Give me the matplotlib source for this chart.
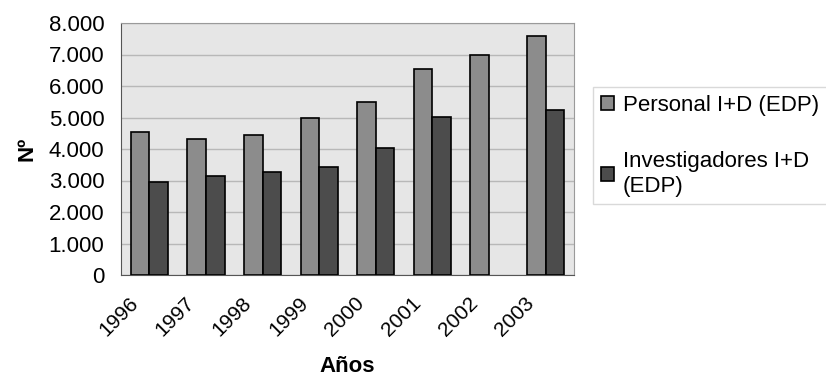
import matplotlib
matplotlib.use("Agg")
import matplotlib.pyplot as plt
import matplotlib.transforms as mtransforms
import numpy as np
from matplotlib.ticker import FuncFormatter

years = ["1996", "1997", "1998", "1999", "2000", "2001", "2002", "2003"]
personal = [4530, 4330, 4440, 4980, 5500, 6550, 7000, 7590]
investigadores = [2960, 3150, 3260, 3430, 4020, 5020, 0, 5230]
labels = ["Personal I+D (EDP)", "Investigadores I+D\n(EDP)"]

plt.rcParams["font.family"] = ["Liberation Sans", "DejaVu Sans"]

fig = plt.figure(figsize=(8.26, 3.81), dpi=100)
ax = fig.add_axes([121 / 826, 1 - 275 / 381, (574 - 121) / 826, (275 - 23) / 381])

x = np.arange(len(years))
w = 0.33
b1 = ax.bar(x - w / 2, personal, w, color="#8c8c8c", edgecolor="black", linewidth=1.2,
            label=labels[0], zorder=3)
b2 = ax.bar(x + w / 2, investigadores, w, color="#4c4c4c", edgecolor="black", linewidth=1.2,
            label=labels[1], zorder=3)
# empty bar: no outline
for r, v in zip(b2, investigadores):
    if v == 0:
        r.set_linewidth(0)

ax.set_xlim(-0.5, len(years) - 0.5)
ax.set_ylim(0, 8000)
ax.set_yticks(range(0, 8001, 1000))
ax.yaxis.set_major_formatter(FuncFormatter(lambda v, p: f"{int(v):,}".replace(",", ".")))
ax.set_facecolor("#e6e6e6")
ax.grid(axis="y", color="#b8b8b8", linewidth=1, zorder=0)

ax.set_xticks(x)
ax.set_xticklabels(years, rotation=45, ha="right", va="top", rotation_mode="anchor")
ax.tick_params(axis="x", length=0, labelsize=15, pad=13)
ax.tick_params(axis="y", length=0, labelsize=16, pad=12)
# shift rotated year labels a bit to the left
shift = mtransforms.ScaledTranslation(-21 / 100, 0, fig.dpi_scale_trans)
for t in ax.get_xticklabels():
    t.set_transform(t.get_transform() + shift)

for s in ["top", "right"]:
    ax.spines[s].set_color("#9a9a9a")
for s in ["left", "bottom"]:
    ax.spines[s].set_color("#555555")

ax.set_ylabel("Nº", fontsize=16, fontweight="bold", labelpad=8)
ax.set_xlabel("Años", fontsize=16, fontweight="bold", labelpad=12)

leg = fig.legend(handles=[b1, b2], loc="upper left", bbox_to_anchor=(593 / 826, 1 - 87 / 381),
                 borderaxespad=0, frameon=True, fontsize=16, handlelength=0.6,
                 handleheight=0.6, handletextpad=0.4, labelspacing=1.6, borderpad=0.35,
                 fancybox=False)
leg.get_frame().set_edgecolor("#d0d0d0")
leg.get_frame().set_linewidth(1)

fig.savefig("out.png", dpi=100)
